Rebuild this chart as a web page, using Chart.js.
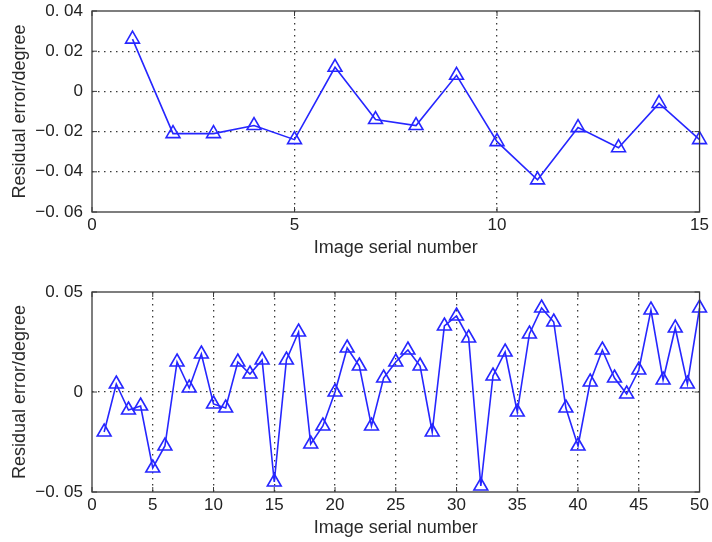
<!DOCTYPE html>
<html><head><meta charset="utf-8">
<script src="https://cdn.jsdelivr.net/npm/chart.js@4/dist/chart.umd.min.js"></script>
<style>
html,body{margin:0;padding:0;background:#fff;}
#wrap{position:relative;width:712px;height:542px;overflow:hidden;background:#fff;}
.box{position:absolute;left:0;width:712px;}
</style></head><body>
<div id="wrap">
<div class="box" style="top:-10px;height:281px"><canvas id="topChart" width="712" height="281"></canvas></div>
<div class="box" style="top:271px;height:271px"><canvas id="bottomChart" width="712" height="271"></canvas></div>
</div>
<script>
// ---- data ----
const topSerial = [1,2,3,4,5,6,7,8,9,10,11,12,13,14,15];
const topResidual = [0.026,-0.021,-0.021,-0.017,-0.024,0.012,-0.014,-0.017,0.008,-0.025,-0.044,-0.018,-0.028,-0.006,-0.024];
const bottomSerial = [1,2,3,4,5,6,7,8,9,10,11,12,13,14,15,16,17,18,19,20,21,22,23,24,25,26,27,28,29,30,31,32,33,34,35,36,37,38,39,40,41,42,43,44,45,46,47,48,49,50];
const bottomResidual = [-0.020,0.004,-0.009,-0.007,-0.038,-0.027,0.015,0.002,0.019,-0.006,-0.008,0.015,0.009,0.016,-0.045,0.016,0.030,-0.026,-0.017,0.000,0.022,0.013,-0.017,0.007,0.015,0.021,0.013,-0.020,0.033,0.038,0.027,-0.047,0.008,0.020,-0.010,0.029,0.042,0.035,-0.008,-0.027,0.005,0.021,0.007,-0.001,0.011,0.041,0.006,0.032,0.004,0.042];
const topXTicks = [0,5,10,15];
const topXTickLabels = ['0','5','10','15'];
const topYTicks = [-0.06,-0.04,-0.02,0,0.02,0.04];
const topYTickLabels = ['\u22120. 06','\u22120. 04','\u22120. 02','0','0. 02','0. 04'];
const bottomXTicks = [0,5,10,15,20,25,30,35,40,45,50];
const bottomXTickLabels = ['0','5','10','15','20','25','30','35','40','45','50'];
const bottomYTicks = [-0.05,0,0.05];
const bottomYTickLabels = ['\u22120. 05','0','0. 05'];
const xTitle = 'Image serial number';
const yTitle = 'Residual error/degree';

const BLUE = '#2626ff';
const FONT = 'Liberation Sans';

const framePlugin = {
  id: 'frame',
  afterDraw(chart) {
    const {ctx, chartArea: a, scales} = chart;
    const x = scales.x, y = scales.y;
    ctx.save();
    ctx.strokeStyle = '#3a3a3a';
    ctx.lineWidth = 1.3;
    ctx.strokeRect(a.left, a.top, a.right - a.left, a.bottom - a.top);
    ctx.lineWidth = 1;
    ctx.beginPath();
    const tl = 5;
    x.ticks.forEach(t => {
      const px = x.getPixelForValue(t.value);
      ctx.moveTo(px, a.bottom); ctx.lineTo(px, a.bottom - tl);
      ctx.moveTo(px, a.top); ctx.lineTo(px, a.top + tl);
    });
    y.ticks.forEach(t => {
      const py = y.getPixelForValue(t.value);
      ctx.moveTo(a.left, py); ctx.lineTo(a.left + tl, py);
      ctx.moveTo(a.right, py); ctx.lineTo(a.right - tl, py);
    });
    ctx.stroke();
    ctx.restore();
  }
};

function makeChart(id, xs, ys, xt, xtl, yt, ytl, pad, xAxisH, xTitlePad) {
  const pts = xs.map((v, i) => ({x: v, y: ys[i]}));
  const xmin = xt[0], xmax = xt[xt.length - 1];
  const ymin = yt[0], ymax = yt[yt.length - 1];
  const gridColor = (lo, hi) => c => (c.tick && (Math.abs(c.tick.value - lo) < 1e-9 || Math.abs(c.tick.value - hi) < 1e-9)) ? 'rgba(0,0,0,0)' : '#3a3a3a';
  return new Chart(document.getElementById(id), {
    type: 'line',
    data: {datasets: [{
      data: pts,
      borderColor: BLUE,
      borderWidth: 1.6,
      pointStyle: 'triangle',
      pointRadius: 8,
      pointBorderWidth: 1.6,
      pointBorderColor: BLUE,
      pointBackgroundColor: 'rgba(0,0,0,0)',
      tension: 0,
      clip: false
    }]},
    options: {
      responsive: false,
      animation: false,
      devicePixelRatio: 1,
      layout: {padding: {left: 0, right: 9, top: pad, bottom: 0}},
      plugins: {legend: {display: false}, tooltip: {enabled: false}},
      scales: {
        x: {
          type: 'linear', min: xmin, max: xmax,
          afterBuildTicks: s => { s.ticks = xt.map(v => ({value: v})); },
          afterFit: s => { s.height = xAxisH; },
          ticks: {color: '#222', padding: 3, maxRotation: 0, autoSkip: false,
            font: {family: FONT, size: 17},
            callback: (v, i) => xtl[i]},
          grid: {drawTicks: false, color: gridColor(xmin, xmax), lineWidth: 1.3},
          border: {display: false, dash: [1.5, 4.5]},
          title: {display: true, text: xTitle, color: '#2a2a2a',
            font: {family: FONT, size: 18}, padding: {top: 0, bottom: xTitlePad}}
        },
        y: {
          type: 'linear', min: ymin, max: ymax,
          afterBuildTicks: s => { s.ticks = yt.map(v => ({value: v})); },
          afterFit: s => { s.width = 92; },
          ticks: {color: '#222', padding: 9, autoSkip: false,
            font: {family: FONT, size: 17},
            callback: (v, i) => ytl[i]},
          grid: {drawTicks: false, color: gridColor(ymin, ymax), lineWidth: 1.3},
          border: {display: false, dash: [1.5, 4.5]},
          title: {display: true, text: yTitle, color: '#2a2a2a',
            font: {family: FONT, size: 18}, padding: {top: 9.2, bottom: 0}}
        }
      }
    },
    plugins: [framePlugin]
  });
}

makeChart('topChart', topSerial, topResidual, topXTicks, topXTickLabels, topYTicks, topYTickLabels, 21, 59, 12.2);
makeChart('bottomChart', bottomSerial, bottomResidual, bottomXTicks, bottomXTickLabels, bottomYTicks, bottomYTickLabels, 21, 50, 3.2);
</script>
</body></html>
